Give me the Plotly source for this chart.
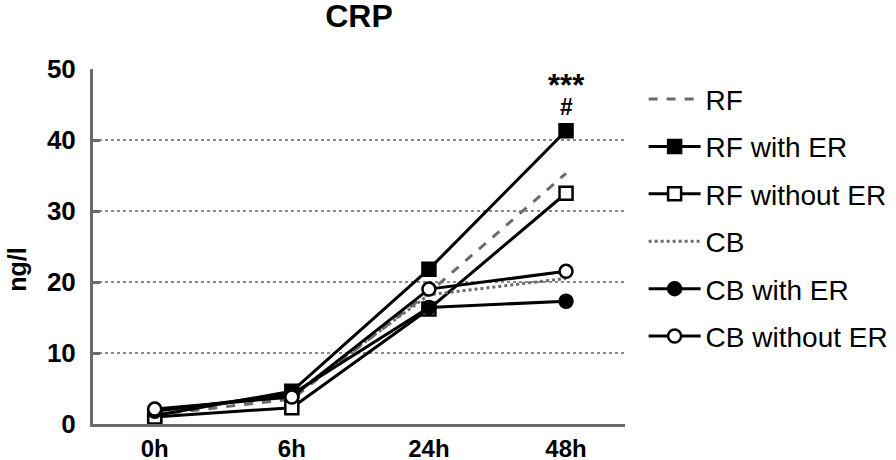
import plotly.graph_objects as go

categories = ["0h", "6h", "24h", "48h"]
rf = [1.3, 3.5, 18.5, 35.3]
rf_with_er = [1.2, 4.6, 21.8, 41.3]
rf_without_er = [1.0, 2.3, 16.2, 32.5]
cb = [1.9, 4.0, 18.2, 20.5]
cb_with_er = [1.8, 4.2, 16.4, 17.3]
cb_without_er = [2.1, 3.8, 19.0, 21.5]
y_ticks = [0, 10, 20, 30, 40, 50]

FONT = "Arial, Liberation Sans, sans-serif"
GREY = "#6b6b6b"

fig = go.Figure()

def add(name, y, dash, color, symbol=None, fill=None, width=3):
    mode = "lines+markers" if symbol else "lines"
    kw = dict(x=categories, y=y, name=name, mode=mode, legendgroup=name,
              line=dict(color=color, width=width, dash=dash), cliponaxis=False)
    if symbol:
        kw["marker"] = dict(symbol=symbol, size=13, color=fill,
                            line=dict(color="black", width=2.5))
    fig.add_trace(go.Scatter(**kw))

add("RF", rf, "dash", GREY)
add("RF with ER", rf_with_er, "solid", "black", "square", "black")
add("RF without ER", rf_without_er, "solid", "black", "square", "white")
add("CB", cb, "dot", GREY)
add("CB with ER", cb_with_er, "solid", "black", "circle", "black")
add("CB without ER", cb_without_er, "solid", "black", "circle", "white")

fig.add_annotation(x="48h", y=47.7, text="<b>***</b>", showarrow=False,
                   font=dict(size=31, color="black", family=FONT))
fig.add_annotation(x="48h", y=44.6, text="<b>#</b>", showarrow=False,
                   font=dict(size=23, color="black", family=FONT))
fig.add_annotation(xref="paper", yref="paper", x=-0.143, y=0.434, text="<b>ng/l</b>",
                   textangle=-90, showarrow=False, xanchor="center", yanchor="middle",
                   font=dict(size=25, color="black", family=FONT))

fig.update_layout(
    width=896, height=460,
    paper_bgcolor="white", plot_bgcolor="white",
    margin=dict(l=93, r=271, t=69, b=36, autoexpand=False),
    font=dict(family=FONT, color="black"),
    title=dict(text="<b>CRP</b>", x=0.4007, xanchor="center", y=0.965, yanchor="middle",
               font=dict(size=32, family=FONT, color="black")),
    showlegend=True,
    legend=dict(x=1.035, xanchor="left", y=0.985, yanchor="top",
                font=dict(size=28, family=FONT, color="black"),
                traceorder="grouped", tracegroupgap=8, itemwidth=52,
                bgcolor="rgba(0,0,0,0)"),
)
fig.update_xaxes(type="category", range=[-0.45, 3.43], showline=True, linecolor=GREY,
                 linewidth=3, showgrid=False, ticks="", zeroline=False,
                 automargin=False, ticklabelstandoff=1,
                 tickfont=dict(size=24, family=FONT, color="black", weight="bold"))
fig.update_yaxes(range=[0, 50], tickvals=y_ticks, showline=True, linecolor=GREY,
                 linewidth=3, ticks="inside", ticklen=7, tickwidth=3, tickcolor=GREY,
                 showgrid=True, gridcolor="#8a8a8a", griddash="dot", gridwidth=1.5,
                 zeroline=False, ticklabelstandoff=9, automargin=False,
                 tickfont=dict(size=26, family=FONT, color="black", weight="bold"))

fig.write_html("out.html", config={"displayModeBar": False},
               post_script="document.body.style.margin='0px';")
